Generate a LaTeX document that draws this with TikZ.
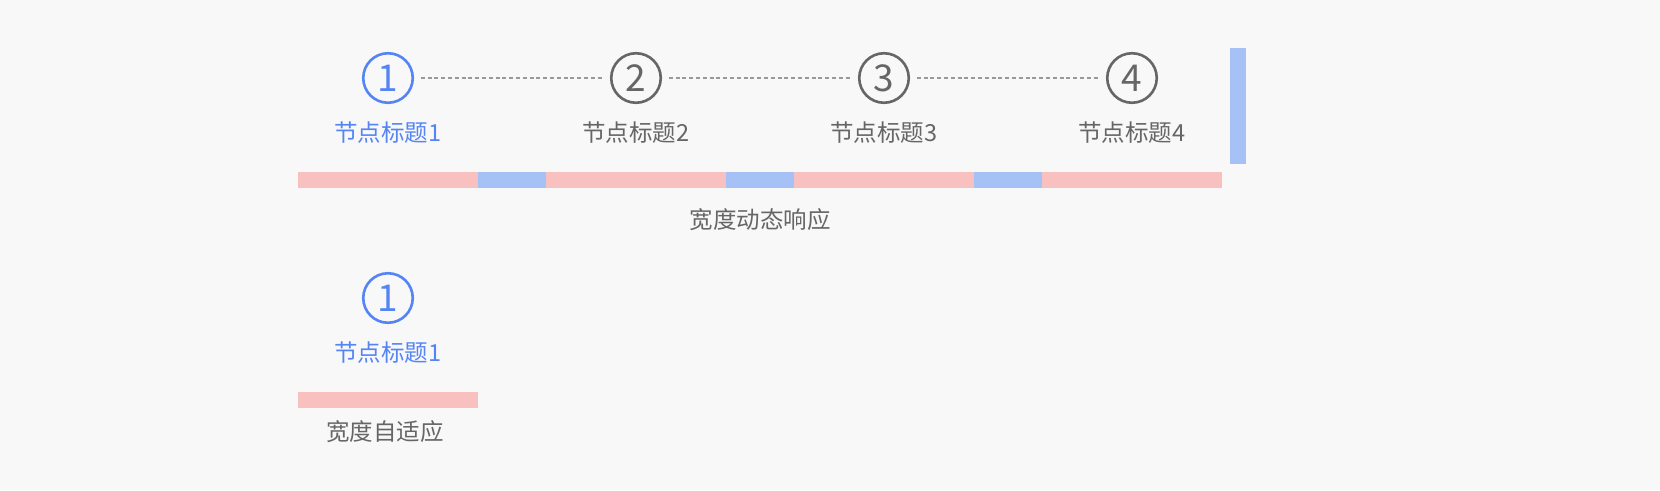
\documentclass[tikz,border=0pt]{standalone}
\usepackage{fontspec}
\setmainfont{Noto Sans CJK SC}
\definecolor{cbg}{HTML}{F8F8F8}
\definecolor{cblue}{HTML}{5585F5}
\definecolor{cgray}{HTML}{666666}
\definecolor{cdash}{HTML}{999999}
\definecolor{cpink}{HTML}{F9C0C0}
\definecolor{clblue}{HTML}{A5C1F5}
\begin{document}
\begin{tikzpicture}[x=1pt,y=-1pt,
  stepcirc/.style={circle,draw,line width=2.6pt,minimum size=49.5pt,inner sep=0pt,outer sep=0pt,font=\fontsize{37}{37}\selectfont},
  active/.style={draw=cblue,text=cblue},
  idle/.style={draw=cgray,text=cgray},
  lbl/.style={font=\fontsize{23.5}{23.5}\selectfont,inner sep=0pt},
  link/.style={draw=cdash,line width=1.6pt,dash pattern=on 4pt off 2.8pt,shorten <=8pt,shorten >=7pt},
  pinkbar/.style={fill=cpink},
  bluebar/.style={fill=clblue}
]
\fill[cbg] (0,0) rectangle (1660,490);
\useasboundingbox (0,0) rectangle (1660,490);

% row 1
\node[stepcirc,active] (c1) at (388,78) {1};
\node[stepcirc,idle] (c2) at (636,78) {2};
\node[stepcirc,idle] (c3) at (884,78) {3};
\node[stepcirc,idle] (c4) at (1132,78) {4};
\draw[link] (c1) -- (c2);
\draw[link] (c2) -- (c3);
\draw[link] (c3) -- (c4);
\node[lbl,text=cblue] (t1) at (388,133) {节点标题1};
\node[lbl,text=cgray] (t2) at (636,133) {节点标题2};
\node[lbl,text=cgray] (t3) at (884,133) {节点标题3};
\node[lbl,text=cgray] (t4) at (1132,133) {节点标题4};

\fill[pinkbar] (298,172) rectangle (478,188);
\fill[bluebar] (478,172) rectangle (546,188);
\fill[pinkbar] (546,172) rectangle (726,188);
\fill[bluebar] (726,172) rectangle (794,188);
\fill[pinkbar] (794,172) rectangle (974,188);
\fill[bluebar] (974,172) rectangle (1042,188);
\fill[pinkbar] (1042,172) rectangle (1222,188);
\fill[bluebar] (1230,48) rectangle (1246,164);
\node[lbl,text=cgray] (w1) at (760,220) {宽度动态响应};

% row 2
\node[stepcirc,active] (s1) at (388,298) {1};
\node[lbl,text=cblue] (u1) at (388,353) {节点标题1};
\fill[pinkbar] (298,392) rectangle (478,408);
\node[lbl,text=cgray] (w2) at (385,432) {宽度自适应};
\end{tikzpicture}
\end{document}
